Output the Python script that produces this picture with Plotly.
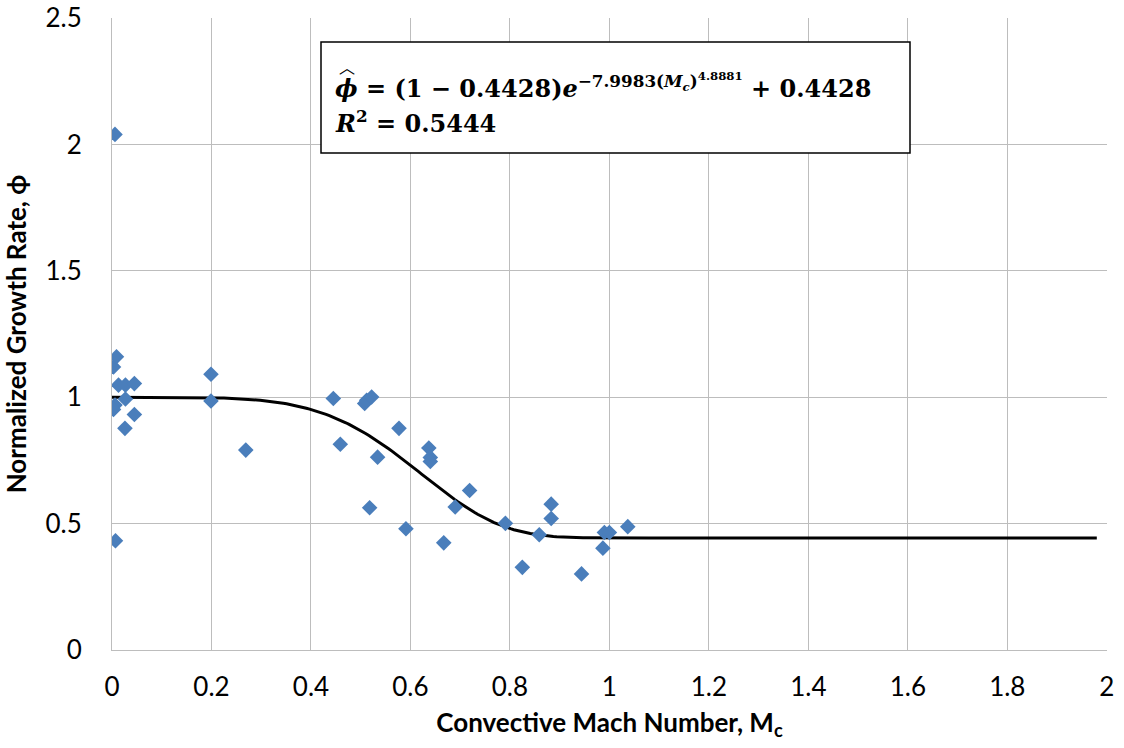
import numpy as np
import plotly.graph_objects as go

# Measured data (Convective Mach number vs normalized growth rate)
mc = [0.006, 0.003, 0.009, 0.013, 0.027, 0.045, 0.027, 0.006, 0.003, 0.045, 0.026,
      0.199, 0.199, 0.269, 0.007,
      0.445, 0.459, 0.508, 0.512, 0.522, 0.577, 0.534, 0.518, 0.591,
      0.637, 0.640, 0.640, 0.690, 0.719, 0.667, 0.791, 0.859, 0.883, 0.883,
      0.825, 0.944, 0.990, 1.000, 0.987, 1.037]
phi = [2.04, 1.12, 1.16, 1.048, 1.048, 1.054, 0.993, 0.969, 0.952, 0.932, 0.877,
       1.091, 0.985, 0.791, 0.432,
       0.995, 0.814, 0.975, 0.988, 1.001, 0.877, 0.763, 0.563, 0.480,
       0.799, 0.762, 0.746, 0.566, 0.631, 0.424, 0.501, 0.456, 0.577, 0.520,
       0.327, 0.301, 0.465, 0.465, 0.403, 0.488]

# Fit parameters shown on the chart
fit_a = 0.4428
fit_k = 7.9983
fit_n = 4.8881
fit_x = np.linspace(0, 1.98, 300)
fit_y = (1 - fit_a) * np.exp(-fit_k * fit_x ** fit_n) + fit_a

x_ticks = [0, 0.2, 0.4, 0.6, 0.8, 1, 1.2, 1.4, 1.6, 1.8, 2]
x_tick_labels = ["0", "0.2", "0.4", "0.6", "0.8", "1", "1.2", "1.4", "1.6", "1.8", "2"]
y_ticks = [0, 0.5, 1, 1.5, 2, 2.5]
y_tick_labels = ["0", "0.5", "1", "1.5", "2", "2.5"]

fig = go.Figure()
fig.add_trace(go.Scatter(x=fit_x, y=fit_y, mode="lines",
                         line=dict(color="black", width=3), showlegend=False))
fig.add_trace(go.Scatter(x=mc, y=phi, mode="markers",
                         marker=dict(symbol="diamond", size=12, color="#4a7ebb"),
                         showlegend=False))

grid = "#bdbdbd"
TOP = 18
H = 650 - TOP
fig.update_layout(
    width=1124, height=748,
    margin=dict(l=112, r=17, t=TOP, b=98),
    plot_bgcolor="white", paper_bgcolor="white",
    font=dict(family="Lato, Open Sans, sans-serif", color="black"),
    xaxis=dict(range=[0, 2.0005], tickvals=x_ticks, ticktext=x_tick_labels,
               showgrid=True, gridcolor=grid, gridwidth=1, zeroline=False,
               showline=True, linecolor=grid, mirror=False, ticks="",
               tickfont=dict(size=26), ticklabelstandoff=14,
               ticklabeloverflow="allow", automargin=False,
               title=dict(text="<b>Convective Mach Number, M<sub>c</sub></b>",
                          font=dict(size=26), standoff=12)),
    yaxis=dict(range=[0, 2.5005], tickvals=y_ticks, ticktext=y_tick_labels,
               showgrid=True, gridcolor=grid, gridwidth=1, zeroline=False,
               showline=True, linecolor=grid, ticks="",
               tickfont=dict(size=26), ticklabelstandoff=24,
               ticklabeloverflow="allow", automargin=False,
               title=dict(text="<b>Normalized Growth Rate, ϕ</b>",
                          font=dict(size=26), standoff=16)),
)

# Equation box
fig.add_shape(type="rect", xref="paper", yref="paper",
              x0=(321 - 112) / 995, x1=(910 - 112) / 995,
              y0=(650 - 153) / H, y1=(650 - 42) / H,
              line=dict(color="black", width=1.5), fillcolor="white", layer="above")
eq_font = dict(family="DejaVu Serif, Liberation Serif, serif", size=24, color="black")
fig.add_annotation(xref="paper", yref="paper",
                   x=(333 - 112) / 995, y=(650 - 86) / H,
                   xanchor="left", yanchor="middle", showarrow=False,
                   text="<b><i>ϕ</i> = (1 − 0.4428)<i>e</i><sup>−7.9983(<i>M<sub>c</sub></i>)<sup>4.8881</sup></sup> + 0.4428</b>",
                   font=eq_font)
fig.add_annotation(xref="paper", yref="paper",
                   x=(347 - 112) / 995, y=(650 - 66) / H,
                   xanchor="center", yanchor="middle", showarrow=False,
                   text="︿", font=dict(family="Noto Sans CJK SC, sans-serif", size=16, color="black"))
fig.add_annotation(xref="paper", yref="paper",
                   x=(333 - 112) / 995, y=(650 - 122) / H,
                   xanchor="left", yanchor="middle", showarrow=False,
                   text="<b><i>R</i><sup>2</sup> = 0.5444</b>",
                   font=eq_font)

fig.write_html("out.html")
